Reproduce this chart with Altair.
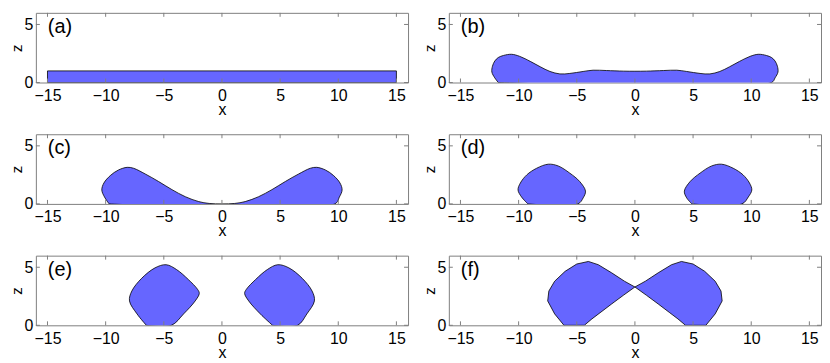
import altair as alt
import pandas as pd

panel_labels = ["(a)", "(b)", "(c)", "(d)", "(e)", "(f)"]
x_ticks = [-15, -10, -5, 0, 5, 10, 15]
z_ticks = [0, 5]
x_domain = [-16, 16]
z_domain = [0, 6]

# (a) flat film
a_x = [-15, 15, 15, -15, -15]
a_z = [0, 0, 1, 1, 0]

# (b)
b_x = [-11.75, -12.05, -12.3, -12.25, -12.05, -11.75, -11.3, -10.6, -9.9, -9.0, -8.15,
       -7.3, -6.45, -5.6, -4.45, -3.6, -2.45, -1.0, 0.0, 1.0, 2.45, 3.6, 4.45, 5.6, 6.45,
       7.3, 8.15, 9.0, 9.9, 10.6, 11.3, 11.75, 12.05, 12.25, 12.3, 12.05, 11.75, -11.75]
b_z = [0, 0.4, 0.9, 1.4, 1.85, 2.15, 2.33, 2.43, 2.25, 1.82, 1.36,
       0.95, 0.74, 0.78, 0.95, 1.06, 1.03, 0.98, 0.97, 0.98, 1.03, 1.06, 0.95, 0.78, 0.74,
       0.95, 1.36, 1.82, 2.25, 2.43, 2.33, 2.15, 1.85, 1.4, 0.9, 0.4, 0, 0]

# (c)
c_x = [-9.7, -10.1, -10.33, -10.15, -9.6, -8.9, -8.15, -7.6, -6.6, -5.45, -4.3, -3.15,
       -2.0, -1.1, 0.0, 1.1, 2.0, 3.15, 4.3, 5.45, 6.6, 7.6, 8.15, 8.9, 9.6, 10.15, 10.33,
       10.1, 9.7, -9.7]
c_z = [0, 0.6, 1.2, 1.8, 2.44, 2.92, 3.15, 3.07, 2.58, 1.93, 1.23, 0.62,
       0.2, 0.04, 0.0, 0.04, 0.2, 0.62, 1.23, 1.93, 2.58, 3.07, 3.15, 2.92, 2.44, 1.8, 1.2,
       0.6, 0, 0]

# (d)
d1_x = [-9.2, -9.75, -10.05, -9.85, -9.3, -8.45, -7.45, -6.6, -5.6, -4.75, -4.25, -4.45, -4.9, -9.2]
d1_z = [0, 0.6, 1.2, 1.8, 2.5, 3.07, 3.42, 3.27, 2.65, 1.93, 1.1, 0.52, 0, 0]
d2_x = [4.9, 4.45, 4.25, 4.75, 5.6, 6.6, 7.45, 8.45, 9.3, 9.85, 10.05, 9.75, 9.2, 4.9]
d2_z = [0, 0.52, 1.1, 1.93, 2.65, 3.27, 3.42, 3.07, 2.5, 1.8, 1.2, 0.6, 0, 0]

# (e)
e1_x = [-6.5, -7.3, -7.95, -7.75, -6.9, -5.75, -4.8, -3.9, -2.9, -2.1, -1.95, -2.3, -3.3, -4.35, -6.5]
e1_z = [0, 0.98, 2.1, 2.95, 4.05, 4.95, 5.22, 4.8, 3.95, 3.1, 2.75, 2.1, 0.98, 0, 0]
e2_x = [4.35, 3.3, 2.3, 1.95, 2.1, 2.9, 3.9, 4.8, 5.75, 6.9, 7.75, 7.95, 7.3, 6.5, 4.35]
e2_z = [0, 0.98, 2.1, 2.75, 3.1, 3.95, 4.8, 5.22, 4.95, 4.05, 2.95, 2.1, 0.98, 0, 0]

# (f)
f1_x = [-6.1, -6.9, -7.5, -7.4, -6.9, -6.0, -5.0, -4.0, -3.15, -2.0, -0.9, 0.0, -1.0, -2.0, -3.0, -3.7, -4.35, -6.1]
f1_z = [0, 0.98, 2.1, 2.95, 3.8, 4.65, 5.28, 5.5, 5.22, 4.52, 3.8, 3.3, 2.58, 1.84, 1.08, 0.55, 0, 0]
f2_x = [4.35, 3.7, 3.0, 2.0, 1.0, 0.0, 0.9, 2.0, 3.15, 4.0, 5.0, 6.0, 6.9, 7.4, 7.5, 6.9, 6.1, 4.35]
f2_z = [0, 0.55, 1.08, 1.84, 2.58, 3.3, 3.8, 4.52, 5.22, 5.5, 5.28, 4.65, 3.8, 2.95, 2.1, 0.98, 0, 0]

shapes = [
    [(a_x, a_z)],
    [(b_x, b_z)],
    [(c_x, c_z)],
    [(d1_x, d1_z), (d2_x, d2_z)],
    [(e1_x, e1_z), (e2_x, e2_z)],
    [(f1_x, f1_z), (f2_x, f2_z)],
]
curve_styles = ["linear", "catmull-rom", "catmull-rom", "catmull-rom", "catmull-rom", "linear"]

W, H = 374, 70
FILL = "#6666ff"
BOX = "#7f7f7f"
FONT = "Liberation Sans"
TL = 4

xs = alt.Scale(domain=x_domain, nice=False, zero=False)
zs = alt.Scale(domain=z_domain, nice=False, zero=False)
x_axis = alt.Axis(values=x_ticks, title="x")
z_axis = alt.Axis(values=z_ticks, title="z")


def panel(label, parts, curve):
    rows = []
    for p, (px, pz) in enumerate(parts):
        for i, (x, z) in enumerate(zip(px, pz)):
            rows.append({"x": x, "z": z, "part": p, "i": i})
    df = pd.DataFrame(rows)
    shape = alt.Chart(df).mark_line(
        fill=FILL, stroke="black", strokeWidth=0.8, interpolate=curve, clip=True
    ).encode(
        x=alt.X("x:Q", scale=xs, axis=x_axis),
        y=alt.Y("z:Q", scale=zs, axis=z_axis),
        detail="part:N",
        order="i:Q",
    )
    xt = pd.DataFrame({"x": x_ticks})
    zt = pd.DataFrame({"z": z_ticks})
    top = alt.Chart(xt).mark_rule(color=BOX, strokeWidth=1).encode(
        x=alt.X("x:Q", scale=xs, axis=x_axis), y=alt.value(0), y2=alt.value(TL))
    bot = alt.Chart(xt).mark_rule(color=BOX, strokeWidth=1).encode(
        x=alt.X("x:Q", scale=xs, axis=x_axis), y=alt.value(H), y2=alt.value(H - TL))
    left = alt.Chart(zt).mark_rule(color=BOX, strokeWidth=1).encode(
        y=alt.Y("z:Q", scale=zs, axis=z_axis), x=alt.value(0), x2=alt.value(TL))
    right = alt.Chart(zt).mark_rule(color=BOX, strokeWidth=1).encode(
        y=alt.Y("z:Q", scale=zs, axis=z_axis), x=alt.value(W), x2=alt.value(W - TL))
    txt = alt.Chart(pd.DataFrame({"lab": [label]})).mark_text(
        align="left", baseline="middle", fontSize=20, font=FONT, color="black"
    ).encode(text="lab:N", x=alt.value(12), y=alt.value(14))
    return alt.layer(shape, top, bot, left, right, txt).properties(width=W, height=H)


panels = [panel(l, s, c) for l, s, c in zip(panel_labels, shapes, curve_styles)]

chart = alt.concat(
    *panels, columns=2, spacing={"row": 52, "column": 41}, bounds="flush"
).properties(
    padding={"left": 0, "top": 3, "right": 0, "bottom": 0}
).configure_axis(
    grid=False, ticks=False, domain=False, labelFont=FONT, labelFontSize=16,
    labelColor="black", titleFont=FONT, titleFontSize=16, titleFontWeight="normal",
    titleColor="black", labelFlush=False, labelOverlap=False,
).configure_axisX(
    labelPadding=5, titlePadding=-2,
).configure_axisY(
    labelPadding=3, titlePadding=0, titleFontSize=15,
).configure_view(
    stroke=BOX, strokeWidth=1
)

chart.save("out.html", embed_options={"renderer": "svg", "actions": False})
